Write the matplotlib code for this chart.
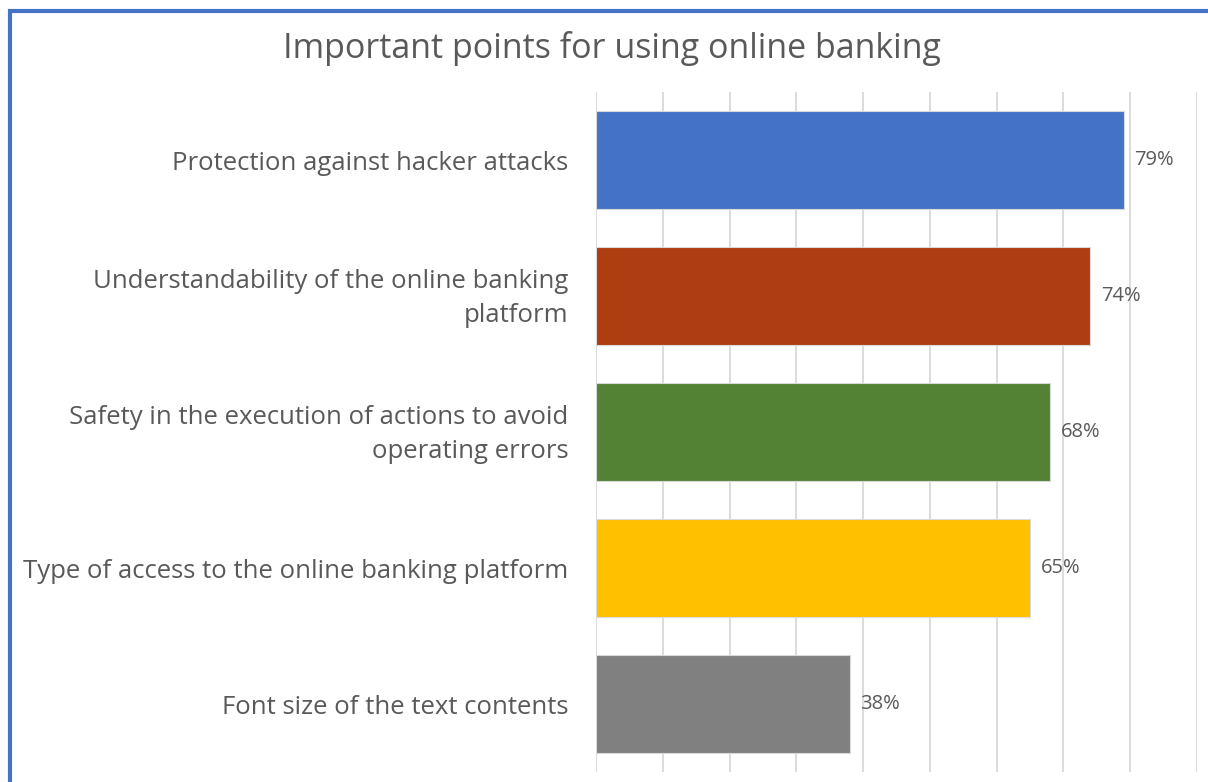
import matplotlib.pyplot as plt
from matplotlib.patches import Rectangle
from matplotlib.transforms import ScaledTranslation

plt.rcParams['font.family'] = ['Open Sans', 'DejaVu Sans']

# survey results, top to bottom
labels = [
    "Protection against hacker attacks",
    "Understandability of the online banking\nplatform",
    "Safety in the execution of actions to avoid\noperating errors",
    "Type of access to the online banking platform",
    "Font size of the text contents",
]
shares = [0.79, 0.74, 0.68, 0.65, 0.38]
colors = ["#4472C4", "#AE3D12", "#548235", "#FFC000", "#808080"]

txt = "#595959"

fig = plt.figure(figsize=(12.08, 7.82), dpi=100)
ax = fig.add_axes([596 / 1208, 1 - 772 / 782, 601 / 1208, 680 / 782])

ypos = list(range(len(labels)))[::-1]
ax.barh(ypos, shares, height=0.715, color=colors, edgecolor="#d9d9d9",
        linewidth=0.8, zorder=3)

for y, v in zip(ypos, shares):
    ax.text(v + 0.016, y, f"{v:.0%}", va="center", ha="left",
            fontsize=14.5, color=txt, zorder=4)

ax.set_xlim(0, 0.9)
ax.set_ylim(-0.5, len(labels) - 0.5)
ax.set_xticks([i / 10 for i in range(10)])
ax.xaxis.grid(True, color="#d9d9d9", linewidth=1.3, zorder=0)
ax.tick_params(axis="x", length=0, labelbottom=False)
ax.set_yticks(ypos)
ax.set_yticklabels(labels, fontsize=18.5, color=txt, linespacing=1.5)
ax.tick_params(axis="y", length=0, pad=20)
# two-line labels sit a little low, nudge them up
nudge = ScaledTranslation(0, 5 / 100, fig.dpi_scale_trans)
for lab in ax.get_yticklabels():
    if "\n" in lab.get_text():
        lab.set_transform(lab.get_transform() + nudge)
for s in ax.spines.values():
    s.set_visible(False)

fig.text(612 / 1208, 1 - 49 / 782, "Important points for using online banking",
         ha="center", va="center", fontsize=24.5, color=txt)

# chart frame, cut off at the right and bottom
fig.patches.append(Rectangle((9.5 / 1208, -0.1), 1.2, 1 - 10.5 / 782 + 0.1,
                             transform=fig.transFigure, fill=False,
                             edgecolor="#4472C4", linewidth=3))

fig.savefig("out.png", dpi=100)
